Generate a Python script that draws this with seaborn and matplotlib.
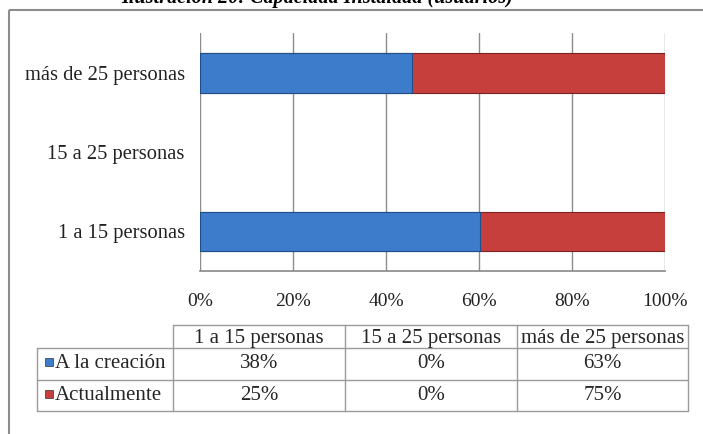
import pandas as pd
import seaborn as sns
import matplotlib.pyplot as plt
from matplotlib.patches import Rectangle

# Data
categorias = ["1 a 15 personas", "15 a 25 personas", "más de 25 personas"]
a_la_creacion = [38, 0, 63]
actualmente = [25, 0, 75]
series = ["A la creación", "Actualmente"]
ticks_pct = [0, 20, 40, 60, 80, 100]
titulo = "Ilustración 20: Capacidad Instalada (usuarios)"

azul = "#3d7ccb"
rojo = "#c73f3d"
gris = "#8c8c8c"

sns.set_theme(style="white")
plt.rcParams["font.family"] = ["Liberation Serif", "DejaVu Serif"]

# 100% stacked: share of each series within the category
df = pd.DataFrame({"categoria": categorias, "creacion": a_la_creacion, "actual": actualmente})
df["total"] = df["creacion"] + df["actual"]
df["pct_creacion"] = (df["creacion"] / df["total"].where(df["total"] > 0)).fillna(0) * 100
df["pct_total"] = (df["total"] > 0) * 100.0

fig = plt.figure(figsize=(7.03, 4.34), dpi=100)

# overlay in pixel coords for frame, title and data table
over = fig.add_axes([0, 0, 1, 1])
over.set_xlim(0, 703)
over.set_ylim(434, 0)
over.axis("off")
over.add_patch(Rectangle((9, 10), 720, 440, fill=False, edgecolor=gris, lw=1.5))
over.text(317, 3, titulo, ha="center", va="baseline", fontsize=14.5,
          fontweight="bold", fontstyle="italic", color="black")

# main chart
ax = fig.add_axes([200 / 703, 1 - 271 / 434, 465 / 703, 238 / 434])
orden = categorias[::-1]
sns.barplot(data=df, y="categoria", x="pct_total", order=orden, color=rojo,
            width=0.5, orient="h", saturation=1, edgecolor="#7a2220", linewidth=0.8, ax=ax)
sns.barplot(data=df, y="categoria", x="pct_creacion", order=orden, color=azul,
            width=0.5, orient="h", saturation=1, edgecolor="#1f4f8a", linewidth=0.8, ax=ax)
# empty categories should not leave an outline at 0%
for p in ax.patches:
    if p.get_width() == 0:
        p.set_visible(False)

ax.set_xlim(0, 100)
ax.set_ylim(2.5, -0.5)
ax.set_xticks(ticks_pct)
ax.set_xticklabels([f"{t}%" for t in ticks_pct])
ax.xaxis.grid(True, color=gris, lw=1)
ax.set_axisbelow(True)
ax.set_xlabel("")
ax.set_ylabel("")
for s in ["top", "right", "left"]:
    ax.spines[s].set_visible(False)
ax.spines["bottom"].set_color(gris)
ax.tick_params(axis="x", length=0, pad=16, labelsize=14, colors="#222222")
ax.tick_params(axis="y", length=0, pad=11, labelsize=14.8, colors="#222222")

# data table under the chart
col_x = [37, 173, 345, 517, 688]
row_y = [325, 348, 380, 411]
lc = "#9a9a9a"
over.plot([col_x[1], col_x[-1]], [row_y[0], row_y[0]], color=lc, lw=1)
for y in row_y[1:]:
    over.plot([col_x[0], col_x[-1]], [y, y], color=lc, lw=1)
over.plot([col_x[0], col_x[0]], [row_y[1], row_y[-1]], color=lc, lw=1)
for x in col_x[1:]:
    over.plot([x, x], [row_y[0], row_y[-1]], color=lc, lw=1)

fs_tab = 15
for i, cat in enumerate(categorias):
    xc = (col_x[i + 1] + col_x[i + 2]) / 2
    over.text(xc, (row_y[0] + row_y[1]) / 2 + 1.5, cat, ha="center", va="center", fontsize=fs_tab)

valores = [a_la_creacion, actualmente]
colores = [azul, rojo]
for r, (nombre, vals, c) in enumerate(zip(series, valores, colores)):
    yc = (row_y[r + 1] + row_y[r + 2]) / 2
    over.add_patch(Rectangle((45, yc - 6), 8, 8, facecolor=c, edgecolor="#333333", lw=0.5))
    over.text(55, yc, nombre, ha="left", va="center", fontsize=fs_tab)
    for i, v in enumerate(vals):
        xc = (col_x[i + 1] + col_x[i + 2]) / 2
        over.text(xc, yc, f"{v}%", ha="center", va="center", fontsize=fs_tab)

fig.savefig("out.png", dpi=100, facecolor="white")
